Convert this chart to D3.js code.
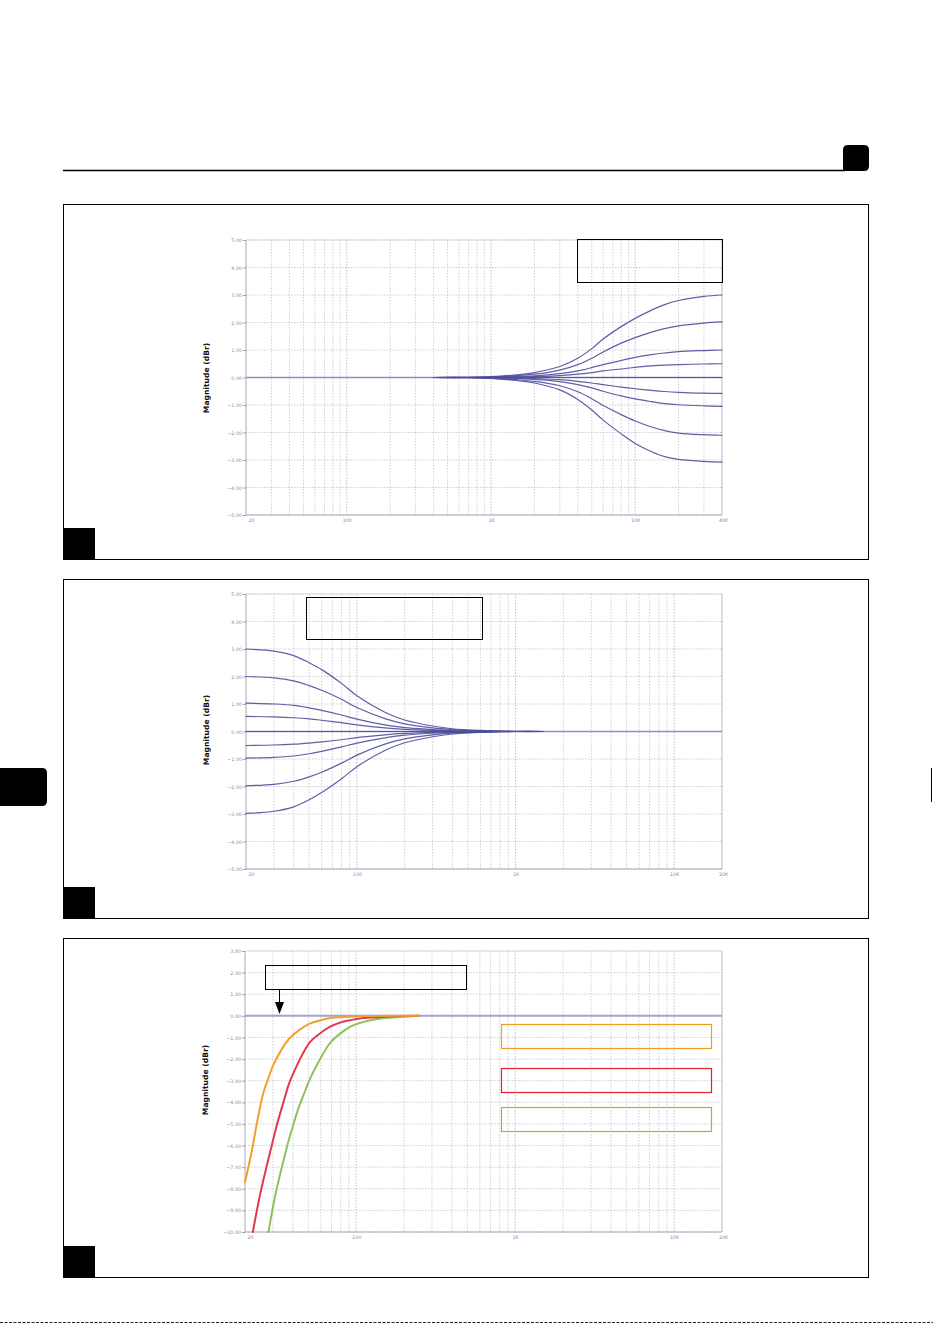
<!DOCTYPE html>
<html><head><meta charset="utf-8">
<script src="https://cdn.jsdelivr.net/npm/d3@7"></script>
<style>html,body{margin:0;padding:0;background:#fff;}svg{display:block;}</style>
</head><body>
<svg id="c" width="933" height="1324"></svg>
<script>
// ---------- DATA ----------
// Panel 1: high-frequency shelf (dBr vs Hz)
const hfFreq = [400, 700, 1000, 1500, 2000, 3000, 4000, 5000, 6000, 8000, 10000, 13000, 16000, 20000, 30000, 40000];
const hfBoost3 = [0, 0.01, 0.03, 0.1, 0.18, 0.4, 0.7, 1.05, 1.4, 1.85, 2.15, 2.45, 2.65, 2.8, 2.95, 3.0];
const hfBoost2 = [0, 0.01, 0.02, 0.07, 0.12, 0.27, 0.47, 0.7, 0.93, 1.25, 1.45, 1.65, 1.78, 1.88, 1.98, 2.02];
const hfBoost1 = [0, 0, 0.01, 0.04, 0.06, 0.14, 0.24, 0.36, 0.47, 0.62, 0.73, 0.83, 0.89, 0.94, 0.98, 1.0];
const hfBoost05 = [0, 0, 0, 0.02, 0.03, 0.07, 0.12, 0.18, 0.24, 0.31, 0.37, 0.42, 0.45, 0.47, 0.49, 0.5];
const hfFlat = [0, 0, 0, 0, 0, 0, 0, 0, 0, 0, 0, 0, 0, 0, 0, 0];
const hfCut05 = [0, 0, 0, -0.02, -0.04, -0.08, -0.14, -0.2, -0.26, -0.35, -0.41, -0.47, -0.51, -0.54, -0.57, -0.58];
const hfCut1 = [0, 0, -0.01, -0.04, -0.07, -0.15, -0.26, -0.38, -0.5, -0.67, -0.78, -0.88, -0.95, -0.99, -1.03, -1.05];
const hfCut2 = [0, -0.01, -0.02, -0.08, -0.14, -0.3, -0.52, -0.77, -1.02, -1.35, -1.58, -1.8, -1.93, -2.02, -2.08, -2.1];
const hfCut3 = [0, -0.01, -0.03, -0.11, -0.2, -0.45, -0.8, -1.18, -1.55, -2.05, -2.4, -2.7, -2.88, -2.98, -3.05, -3.08];

// Panel 2: low-frequency shelf
const lfFreq = [20, 30, 40, 50, 60, 80, 100, 150, 200, 300, 400, 600, 800, 1000, 1500];
const lfBoost3 = [3.0, 2.92, 2.76, 2.5, 2.25, 1.75, 1.3, 0.7, 0.42, 0.2, 0.1, 0.04, 0.02, 0.01, 0];
const lfBoost2 = [2.0, 1.95, 1.84, 1.67, 1.5, 1.17, 0.87, 0.47, 0.28, 0.13, 0.07, 0.03, 0.01, 0, 0];
const lfBoost1 = [1.03, 1.0, 0.95, 0.86, 0.77, 0.6, 0.45, 0.24, 0.14, 0.07, 0.03, 0.01, 0, 0, 0];
const lfBoost05 = [0.55, 0.53, 0.5, 0.46, 0.41, 0.32, 0.24, 0.13, 0.08, 0.04, 0.02, 0.01, 0, 0, 0];
const lfFlat = [0, 0, 0, 0, 0, 0, 0, 0, 0, 0, 0, 0, 0, 0, 0];
const lfCut05 = [-0.51, -0.49, -0.46, -0.42, -0.38, -0.3, -0.22, -0.12, -0.07, -0.03, -0.02, -0.01, 0, 0, 0];
const lfCut1 = [-0.97, -0.94, -0.89, -0.81, -0.72, -0.56, -0.42, -0.23, -0.13, -0.06, -0.03, -0.01, 0, 0, 0];
const lfCut2 = [-1.97, -1.92, -1.81, -1.65, -1.48, -1.15, -0.86, -0.46, -0.27, -0.12, -0.06, -0.02, -0.01, 0, 0];
const lfCut3 = [-2.98, -2.9, -2.74, -2.48, -2.22, -1.72, -1.28, -0.69, -0.41, -0.19, -0.09, -0.03, -0.01, 0, 0];

// Panel 3: high-pass (low-cut) filters
const hpOrangeFreq = [20, 22, 24, 26, 28, 30, 34, 38, 44, 51, 60, 69, 80, 92, 120, 160, 247];
const hpOrange = [-7.7, -6.3, -4.8, -3.6, -2.9, -2.3, -1.55, -1.05, -0.65, -0.36, -0.2, -0.1, -0.06, -0.04, -0.01, 0, 0];
const hpRedFreq = [22.4, 25, 28.8, 32, 34.9, 38, 42.4, 47, 51.4, 60, 68.7, 80, 92, 110, 142, 190, 247];
const hpRed = [-10, -8.2, -6.3, -4.95, -4.0, -3.1, -2.3, -1.65, -1.2, -0.78, -0.5, -0.3, -0.2, -0.1, -0.05, -0.01, 0];
const hpGreenFreq = [28.1, 31, 34.9, 38, 40.4, 43, 46.7, 51, 56.7, 62, 68.7, 80, 92, 105, 123, 150, 190, 247];
const hpGreen = [-10, -8.3, -6.7, -5.65, -5.0, -4.35, -3.66, -2.95, -2.27, -1.75, -1.25, -0.8, -0.5, -0.33, -0.2, -0.1, -0.05, 0];

// Axis ticks
const yTicksShelf = [5, 4, 3, 2, 1, 0, -1, -2, -3, -4, -5];
const yTicksHP = [3, 2, 1, 0, -1, -2, -3, -4, -5, -6, -7, -8, -9, -10];
const xTicks1 = [20, 100, 1000, 10000, 40000];
const xLabels1 = ["20", "100", "1K", "10K", "40K"];
const xTicks2 = [20, 100, 1000, 10000, 20000];
const xLabels2 = ["20", "100", "1K", "10K", "20K"];
const yTitle = "Magnitude (dBr)";

// ---------- DRAW ----------
const svg = d3.select("#c");
const fmt = d3.format(".2f");

// Header rule and tab
svg.append("line").attr("x1", 63).attr("x2", 845).attr("y1", 170.5).attr("y2", 170.5)
  .attr("stroke", "#000").attr("stroke-width", 1.3);
svg.append("path").attr("d", "M843,171 L843,150 Q843,145 848,145 L864,145 Q869,145 869,150 L869,166 Q869,171 864,171 Z").attr("fill", "#000");
// Side tab
svg.append("path").attr("d", "M0,768 L42,768 Q47,768 47,773 L47,801 Q47,806 42,806 L0,806 Z").attr("fill", "#000");
svg.append("line").attr("x1", 931.5).attr("x2", 931.5).attr("y1", 768).attr("y2", 802).attr("stroke", "#000").attr("stroke-width", 1);
// Bottom dotted rule
svg.append("line").attr("x1", 0).attr("x2", 933).attr("y1", 1322.5).attr("y2", 1322.5)
  .attr("stroke", "#222").attr("stroke-width", 1.2).attr("stroke-dasharray", "3,1.5");

function panel(cfg) {
  const g = svg.append("g");
  g.append("rect").attr("x", cfg.box[0] + 0.5).attr("y", cfg.box[1] + 0.5)
    .attr("width", cfg.box[2]).attr("height", cfg.box[3])
    .attr("fill", "none").attr("stroke", "#000").attr("stroke-width", 1);
  g.append("rect").attr("x", cfg.box[0]).attr("y", cfg.box[1] + cfg.box[3] - 31)
    .attr("width", 32).attr("height", 32).attr("fill", "#000");

  const x = d3.scaleLog().domain(cfg.xDomain).range([cfg.px0, cfg.px1]);
  const y = d3.scaleLinear().domain(cfg.yDomain).range([cfg.py1, cfg.py0]);

  const vgrid = [];
  for (let dec = 10; dec <= 10000; dec *= 10) {
    for (let m = 1; m <= 9; m++) {
      const f = dec * m;
      if (f > cfg.xDomain[0] && f <= cfg.xDomain[1]) vgrid.push(f);
    }
  }
  g.selectAll(".vg").data(vgrid).enter().append("line")
    .attr("x1", d => x(d)).attr("x2", d => x(d)).attr("y1", cfg.py0).attr("y2", cfg.py1)
    .attr("stroke", d => (Math.abs(Math.log10(d) % 1) < 1e-9) ? "#aeaebc" : "#c4c4ce")
    .attr("stroke-width", 0.8).attr("stroke-dasharray", "1.5,1.5");
  g.selectAll(".hg").data(cfg.yTicks).enter().append("line")
    .attr("x1", cfg.px0).attr("x2", cfg.px1).attr("y1", d => y(d)).attr("y2", d => y(d))
    .attr("stroke", "#c0c0cc").attr("stroke-width", 0.8).attr("stroke-dasharray", "1.5,1.5");

  g.append("line").attr("x1", cfg.px0).attr("x2", cfg.px0).attr("y1", cfg.py0).attr("y2", cfg.py1)
    .attr("stroke", "#a8a8b4").attr("stroke-width", 1);
  g.append("line").attr("x1", cfg.px0).attr("x2", cfg.px1).attr("y1", cfg.py1).attr("y2", cfg.py1)
    .attr("stroke", "#a8a8b4").attr("stroke-width", 1);
  g.append("line").attr("x1", cfg.px1).attr("x2", cfg.px1).attr("y1", cfg.py0).attr("y2", cfg.py1)
    .attr("stroke", "#c4c4ce").attr("stroke-width", 1);
  g.append("line").attr("x1", cfg.px0).attr("x2", cfg.px1).attr("y1", cfg.py0).attr("y2", cfg.py0)
    .attr("stroke", "#d4d4dc").attr("stroke-width", 0.8);

  const yAxis = d3.axisLeft(y).tickValues(cfg.yTicks).tickSize(3).tickPadding(1).tickFormat(d => fmt(d));
  const ya = g.append("g").attr("transform", `translate(${cfg.px0},0)`).call(yAxis);
  ya.select(".domain").remove();
  ya.selectAll("line").attr("stroke", "#a0a0b0");
  ya.selectAll("text").attr("font-family", "DejaVu Sans, sans-serif").attr("font-size", 4.8).attr("fill", "#8a8aa8");

  const xAxis = d3.axisBottom(x).tickValues(cfg.xTicks).tickSize(0).tickPadding(4)
    .tickFormat((d, i) => cfg.xLabels[i]);
  const xa = g.append("g").attr("transform", `translate(0,${cfg.py1})`).call(xAxis);
  xa.select(".domain").remove();
  xa.selectAll("text").attr("font-family", "DejaVu Sans, sans-serif").attr("font-size", 4.8).attr("fill", "#8a8aa8");
  xa.selectAll(".tick").filter((d, i) => i === 0).select("text").attr("text-anchor", "start").attr("dx", 2);
  xa.selectAll(".tick").filter((d, i) => i === cfg.xTicks.length - 1).select("text").attr("dx", 1);

  g.append("text").attr("transform", `translate(${cfg.titleX},${cfg.titleY}) rotate(-90)`)
    .attr("text-anchor", "middle").attr("font-family", "DejaVu Sans, sans-serif")
    .attr("font-weight", "bold").attr("font-size", 7.6).attr("fill", "#111").text(yTitle);

  g.append("line").attr("x1", cfg.px0).attr("x2", cfg.px1).attr("y1", y(0)).attr("y2", y(0))
    .attr("stroke", cfg.zeroColor).attr("stroke-width", cfg.zeroWidth);

  const line = d3.line().x(d => x(d[0])).y(d => y(d[1])).curve(d3.curveCatmullRom.alpha(0.5));
  cfg.series.forEach(s => {
    const pts = s.freq.map((f, i) => [f, s.values[i]]);
    g.append("path").attr("d", line(pts)).attr("fill", "none")
      .attr("stroke", s.color).attr("stroke-width", s.width).attr("stroke-linecap", "round")
      .attr("stroke-opacity", s.opacity || 1);
  });
  return { g, x, y };
}

const shelfColor = "#4e4e9c";
panel({
  box: [63, 204, 805, 355], px0: 246, px1: 722, py0: 240, py1: 515,
  xDomain: [20, 40000], yDomain: [-5, 5], yTicks: yTicksShelf, xTicks: xTicks1, xLabels: xLabels1,
  titleX: 209, titleY: 378, zeroColor: "#8e8ecc", zeroWidth: 1.4,
  series: [hfBoost3, hfBoost2, hfBoost1, hfBoost05, hfFlat, hfCut05, hfCut1, hfCut2, hfCut3]
    .map(v => ({ freq: hfFreq, values: v, color: shelfColor, width: 1.2, opacity: 0.9 }))
});
svg.append("rect").attr("x", 577.5).attr("y", 239.5).attr("width", 145).attr("height", 43)
  .attr("fill", "none").attr("stroke", "#000").attr("stroke-width", 1);

panel({
  box: [63, 579, 805, 339], px0: 246, px1: 722, py0: 594, py1: 869,
  xDomain: [20, 20000], yDomain: [-5, 5], yTicks: yTicksShelf, xTicks: xTicks2, xLabels: xLabels2,
  titleX: 209, titleY: 730, zeroColor: "#8e8ecc", zeroWidth: 1.4,
  series: [lfBoost3, lfBoost2, lfBoost1, lfBoost05, lfFlat, lfCut05, lfCut1, lfCut2, lfCut3]
    .map(v => ({ freq: lfFreq, values: v, color: shelfColor, width: 1.2, opacity: 0.9 }))
});
svg.append("rect").attr("x", 306.5).attr("y", 597.5).attr("width", 176).attr("height", 42)
  .attr("fill", "none").attr("stroke", "#000").attr("stroke-width", 1);

panel({
  box: [63, 938, 805, 339], px0: 245, px1: 722, py0: 951, py1: 1232,
  xDomain: [20, 20000], yDomain: [-10, 3], yTicks: yTicksHP, xTicks: xTicks2, xLabels: xLabels2,
  titleX: 208, titleY: 1080, zeroColor: "#a4a4d4", zeroWidth: 2,
  series: [
    { freq: hpGreenFreq, values: hpGreen, color: "#8fc05e", width: 2 },
    { freq: hpRedFreq, values: hpRed, color: "#e0394e", width: 2 },
    { freq: hpOrangeFreq, values: hpOrange, color: "#eea033", width: 2 }
  ]
});
svg.append("rect").attr("x", 265.5).attr("y", 965.5).attr("width", 201).attr("height", 24)
  .attr("fill", "none").attr("stroke", "#000").attr("stroke-width", 1);
svg.append("line").attr("x1", 279.5).attr("x2", 279.5).attr("y1", 990).attr("y2", 1004)
  .attr("stroke", "#000").attr("stroke-width", 1);
svg.append("path").attr("d", "M275,1002 L284,1002 L279.5,1014 Z").attr("fill", "#000");
[["#f39c1f", 1024.5], ["#e3202f", 1068.5], ["#86c440", 1107.5]].forEach(([c, yy]) => {
  svg.append("rect").attr("x", 501.5).attr("y", yy).attr("width", 210).attr("height", 24)
    .attr("fill", "none").attr("stroke", c).attr("stroke-width", 1.2);
});
</script>
</body></html>
